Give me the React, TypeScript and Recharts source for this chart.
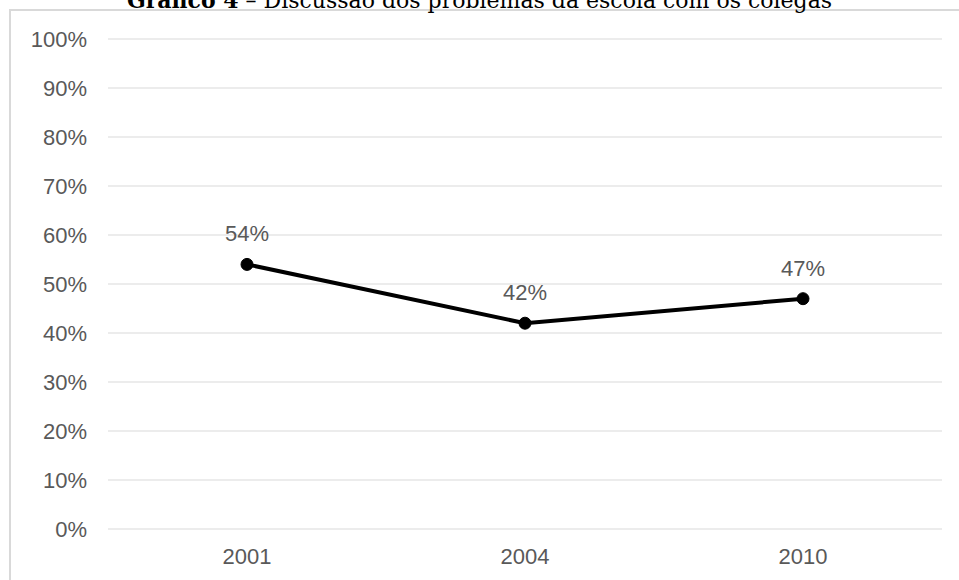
import { LineChart, Line, XAxis, YAxis, CartesianGrid, LabelList } from 'recharts';

const years = ['2001', '2004', '2010'];
const shares = [54, 42, 47];
const yTicks = [0, 10, 20, 30, 40, 50, 60, 70, 80, 90, 100];

const data = years.map((year, i) => ({ year, share: shares[i] }));

const tickStyle = { fontSize: 22, fill: '#595959', fontFamily: 'Liberation Sans, Arial, sans-serif' };

function PointLabel(props: any) {
  const { x, y, value } = props;
  return (
    <text x={x} y={y - 23} textAnchor="middle" {...tickStyle}>
      {`${value}%`}
    </text>
  );
}

export default function App() {
  return (
    <div style={{ position: 'fixed', left: 0, top: 0, width: 959, height: 580, overflow: 'hidden', background: '#fff' }}>
      <div
        style={{
          position: 'absolute', left: 9, top: 9, width: 1000, height: 600,
          borderLeft: '2px solid #d9d9d9', borderTop: '2px solid #d9d9d9',
        }}
      />
      <div
        style={{
          position: 'absolute', left: 0, width: 959, top: -11, textAlign: 'center',
          fontFamily: 'DejaVu Serif, serif', fontSize: 22, lineHeight: '22px', color: '#000', whiteSpace: 'nowrap',
        }}
      >
        <b>Gráfico 4</b> – Discussão dos problemas da escola com os colegas
      </div>
      <div style={{ position: 'absolute', left: 0, top: 0 }}>
        <LineChart width={959} height={580} data={data} margin={{ top: 39, right: 17, bottom: 21, left: 0 }}>
          <CartesianGrid vertical={false} stroke="#d9d9d9" strokeWidth={1} />
          <XAxis
            dataKey="year"
            height={30}
            padding={{ left: 139, right: 139 }}
            axisLine={false}
            tickLine={false}
            tickMargin={13}
            tick={tickStyle}
            interval={0}
          />
          <YAxis
            width={108}
            domain={[0, 100]}
            ticks={yTicks}
            interval={0}
            axisLine={false}
            tickLine={false}
            tickMargin={15}
            tick={tickStyle}
            tickFormatter={(v) => `${v}%`}
          />
          <Line
            type="linear"
            dataKey="share"
            stroke="#000"
            strokeWidth={4}
            dot={{ r: 6, fill: '#000', stroke: '#000', strokeWidth: 1 }}
            isAnimationActive={false}
          >
            <LabelList dataKey="share" content={PointLabel} />
          </Line>
        </LineChart>
      </div>
    </div>
  );
}
